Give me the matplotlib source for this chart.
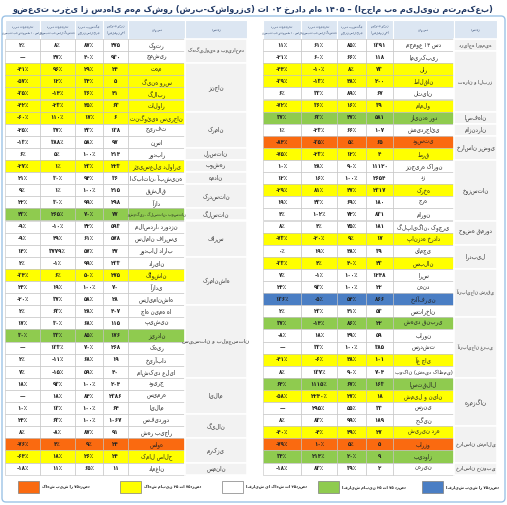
import matplotlib
matplotlib.use("Agg")
import matplotlib.pyplot as plt
from matplotlib.patches import Rectangle, FancyBboxPatch

plt.rcParams['font.family'] = ['DejaVu Sans']

title = "وضعیت برخی از سدهای مهم کشور (شرب-کشاورزی) تا ۰۲ خرداد ماه ۱۴۰۵ – (احجام به میلیون مترمکعب)"
headers = ["استان", "نام سد", "موجودی مخزن\n(میلیون م۳)", "درصد پرشدگی\nمخازن سال جاری",
           "درصد تغییرات\nنسبت به سال گذشته", "درصد تغییرات\nنسبت به متوسط ۱۰ ساله"]

right_provinces = [("دریاچه ارومیه", 1), ("تهران و البرز", 5), ("اصفهان", 1), ("مازندران", 1),
                   ("خراسان رضوی", 2), ("خوزستان", 5), ("حوضه قمرود", 2), ("اردبیل", 2),
                   ("آذربایجان شرقی", 4), ("آذربایجان غربی", 5), ("هرمزگان", 4),
                   ("خراسان شمالی", 3), ("خراسان جنوبی", 1)]
right_dams = ["مجموع ۱۳ سد", "امیرکبیر", "لار", "طالقان", "لتیان", "ماملو", "زاینده رود", "شهیدرجائی",
              "دوستی", "طرق", "زنجیره کارون", "دز", "کرخه", "جره", "مارون", "گلپایگان، کوچری",
              "پانزده خرداد", "یامچی", "سبلان", "ارس", "نهند", "خداآفرین", "ستارخان", "شهید قنبری",
              "بارون", "سردشت", "آغ چای", "بوکان (شهید کاظمی)", "استقلال", "شمیل و نیان", "سرنی",
              "جگین", "شیرین دره", "بارزو", "بیدواز", "نهرین"]
right_volume = ["۱۳۹۱", "۱۱۸", "۷۳", "۲۰۰", "۶۷", "۳۹", "۵۸۱", "۱۰۷", "۶۵", "۴", "۱۱۱۲۰", "۲۶۵۴",
                "۲۳۱۷", "۱۸۰", "۸۳۱", "۱۸۱", "۱۷", "۳۹", "۴۳", "۱۲۴۸", "۲۲", "۸۶۶", "۵۳", "۲۲",
                "۵۹", "۳۸۵", "۱۰۱", "۷۰۴", "۱۶۳", "۱۸", "۳۳", "۱۸۹", "۲۷", "۵", "۹", "۲"]
right_fill = ["۸۵٪", "۶۶٪", "۸٪", "۴۸٪", "۸۹٪", "۱۶٪", "۴۷٪", "۶۶٪", "۵٪", "۱۲٪", "۹۰٪", "۱۰۰٪",
              "۴۷٪", "۶۹٪", "۷۲٪", "۷۵٪", "۹٪", "۴۸٪", "۴۰٪", "۱۰۰٪", "۱۰۰٪", "۵۴٪", "۴۱٪", "۸۶٪",
              "۴۹٪", "۱۰۰٪", "۴۸٪", "۹۰٪", "۶۷٪", "۲۷٪", "۵۵٪", "۹۹٪", "۴۹٪", "۵٪", "۲۰٪", "۳۹٪"]
right_chg_year = ["۶۱٪", "۶۰٪", "-۱۰٪", "-۱۳٪", "۳۳٪", "۳۶٪", "۶۳٪", "-۲۳٪", "-۳۵٪", "-۲۳٪", "۲۸٪",
                  "۱۶٪", "۸۱٪", "۴۳٪", "۱۰۲٪", "۴٪", "-۲۰٪", "۱۹٪", "۴٪", "-۱٪", "۹۳٪", "-۵٪", "۲۳٪",
                  "-۱۴٪", "۱۸٪", "۳۳٪", "-۶٪", "۱۳۷٪", "۱۱۱۵٪", "۲۲۴۰٪", "۲۹۵٪", "۸۳٪", "-۴٪", "۱۰٪",
                  "۲۱۴٪", "۸۳٪"]
right_chg_avg = ["۱۱٪", "-۲۱٪", "-۴۴٪", "-۳۹٪", "۶٪", "-۷۲٪", "۳۷٪", "۱٪", "-۸۴٪", "-۷۵٪", "۱۰٪", "۱۲٪",
                 "-۲۹٪", "۱۹٪", "۴٪", "۸٪", "-۷۳٪", "۰٪", "-۳۳٪", "۷٪", "۲۴٪", "۱۳۶٪", "۲٪", "۳۷٪",
                 "-۸٪", "—", "-۴۱٪", "۸٪", "۶۴٪", "-۵۸٪", "—", "۸٪", "-۴۰٪", "-۷۹٪", "۳۴٪", "-۱۸٪"]
right_class = ["w", "w", "y", "y", "w", "y", "g", "w", "o", "y", "w", "w", "y", "w", "w", "w", "y", "w",
               "y", "w", "w", "b", "w", "g", "w", "w", "y", "w", "g", "y", "w", "w", "y", "o", "g", "w"]

left_provinces = [("کهگیلویه و بویراحمد", 2), ("زنجان", 4), ("کرمان", 3), ("لرستان", 1), ("بوشهر", 1),
                  ("همدان", 1), ("کردستان", 2), ("گلستان", 1), ("فارس", 3), ("کرمانشاه", 4),
                  ("سیستان و بلوچستان", 6), ("ایلام", 3), ("گیلان", 2), ("مرکزی", 2), ("سمنان", 1)]
left_dams = ["کوثر", "چمشیر", "تهم", "گینه ورس", "گلابر", "تالوار", "تنگوئیه سیرجان", "جیرفت", "نسا",
             "رودبار", "رئیسعلی دلواری", "اکباتان، آبشینه", "قشلاق", "آزاد", "وشمگیر، گلستان، بوستان",
             "ملاصدرا، درودزن", "سلمان فارسی", "رودبال داراب", "داریان", "گاوشان", "آزادی", "سلیمانشاه",
             "چاه نیمه ها", "پیشین", "زیردان", "کهیر", "خیرآباد", "ماشکید علیا", "دویرج", "سیمره",
             "ایلام", "سفیدرود", "شهر بیجار", "ساوه", "کمال صالح", "دامغان"]
left_volume = ["۴۷۵", "۹۳۰", "۲۴", "۵", "۴۱", "۶۳", "۶", "۱۳۸", "۹۷", "۲۱۴", "۲۲۳", "۳۶", "۲۱۵", "۲۹۸",
               "۷۷", "۵۹۳", "۵۷۸", "۴۷", "۲۳۳", "۲۷۵", "۷۰", "۲۸", "۴۰۷", "۱۱۵", "۱۷۶", "۲۶۸", "۱۹",
               "۴۰", "۲۰۴", "۲۳۸۶", "۶۴", "۱۰۶۷", "۹۱", "۲۴", "۲۴", "۱۱"]
left_fill = ["۸۷٪", "۴۰٪", "۲۹٪", "۳۴٪", "۳۶٪", "۴۵٪", "۱۷٪", "۴۳٪", "۵۸٪", "۱۰۰٪", "۲۳٪", "۹۴٪", "۱۰۰٪",
             "۹۹٪", "۷۰٪", "۴۲٪", "۶۱٪", "۵۷٪", "۹۹٪", "۵۰٪", "۱۰۰٪", "۵۸٪", "۲۸٪", "۶۸٪", "۸۵٪", "۷۰٪",
             "۶۸٪", "۵۹٪", "۱۰۰٪", "۸۴٪", "۱۰۰٪", "۱۰۰٪", "۸۷٪", "۹٪", "۲۶٪", "۶۵٪"]
left_chg_year = ["۸٪", "۴۷٪", "۹۶٪", "۱۲٪", "-۱۴٪", "-۲۳٪", "۱۱۰٪", "۳۷٪", "۳۸۸٪", "۵٪", "۱٪", "۳۰٪",
                 "۱٪", "۳۰٪", "۲۶۵٪", "-۱۰٪", "۴۹٪", "۳۷۷۹٪", "-۱٪", "۶٪", "۱۹٪", "۳۷٪", "۶۳٪", "۳۰٪",
                 "۳۳٪", "۱۳۳٪", "-۱۱٪", "-۱۵٪", "۹۳٪", "۱۸٪", "۱۳٪", "۶۳٪", "-۸٪", "۴٪", "۱۸٪", "۱۱٪"]
left_chg_avg = ["۲٪", "—", "-۴۱٪", "-۵۷٪", "-۳۵٪", "-۴۲٪", "-۶۰٪", "-۲۵٪", "-۱۳٪", "۶٪", "-۲۷٪", "۲۱٪",
                "۹٪", "۲۲٪", "۴۳٪", "-۹٪", "-۹٪", "۱۴٪", "۲٪", "-۳۴٪", "۲۴٪", "-۲۰٪", "۲٪", "۱۷٪", "۳۰٪",
                "—", "۲٪", "۷٪", "۱۸٪", "—", "۱۰٪", "۲۴٪", "۸٪", "-۷۶٪", "-۶۴٪", "-۱۸٪"]
left_class = ["w", "w", "y", "y", "y", "y", "y", "w", "w", "w", "y", "w", "w", "w", "g", "w", "w", "w",
              "w", "y", "w", "w", "w", "w", "g", "w", "w", "w", "w", "w", "w", "w", "w", "o", "y", "w"]

legend_labels = [("b", "افزایش بیش از ۷۵درصد"), ("g", "افزایش مابین ۲۵ تا ۷۵ درصد"),
                 ("w", "افزایش یا کاهش تا ۲۵درصد"), ("y", "کاهش مابین ۲۵ تا ۷۵درصد"),
                 ("o", "کاهش بیش از ۷۵درصد")]

COL = {"w": "#FFFFFF", "y": "#FFFF00", "g": "#8FCB4F", "o": "#FA6A10", "b": "#4A7EC4"}
HEAD = "#DCE6F2"
PROV = "#F2F2F2"
GRID = "#BFBFBF"

fig = plt.figure(figsize=(5.07, 5.05), dpi=100)
ax = fig.add_axes([0, 0, 1, 1])
ax.set_xlim(0, 507)
ax.set_ylim(505, 0)
ax.axis("off")

ax.add_patch(FancyBboxPatch((2, 16), 503, 486, boxstyle="round,pad=0,rounding_size=4",
                            fc="white", ec="#9DC3E6", lw=1.0))
ax.text(253, 9, title, ha="center", va="center", fontsize=5.9, fontweight="bold", color="#1F3864")

TOP, HH, RH = 20, 19, 12.1


def fit_size(s, width, base):
    # shrink long names so they stay inside their cell
    est = len(s) * base * 0.62
    return base if est <= width else base * width / est


def draw_table(edges, provinces, dams, vol, fill, cy, ca, cls):
    x = edges
    cols_order = [5, 4, 3, 2, 1, 0]
    for i in range(6):
        ax.add_patch(Rectangle((x[i], TOP), x[i + 1] - x[i], HH, fc=HEAD, ec="white", lw=0.8))
        ax.text((x[i] + x[i + 1]) / 2, TOP + HH / 2, headers[cols_order[i]], ha="center",
                va="center", fontsize=2.0, color="#1F3864", linespacing=1.8)
    y0 = TOP + HH
    for r in range(len(dams)):
        y = y0 + r * RH
        c = COL[cls[r]]
        vals = [ca[r], cy[r], fill[r], vol[r], dams[r]]
        for i in range(5):
            ax.add_patch(Rectangle((x[i], y), x[i + 1] - x[i], RH, fc=c, ec=GRID, lw=0.4))
            fw = "bold" if i < 4 else "normal"
            fs = 4.0 if i < 4 else fit_size(vals[i], (x[i + 1] - x[i] - 4) * 0.72, 4.0)
            ax.text((x[i] + x[i + 1]) / 2, y + RH / 2 + 0.3, vals[i], ha="center", va="center",
                    fontsize=fs, fontweight=fw, color="#222222")
    r = 0
    for name, n in provinces:
        y = y0 + r * RH
        ax.add_patch(Rectangle((x[5], y), x[6] - x[5], n * RH, fc=PROV, ec="white", lw=1.2))
        fs = fit_size(name, (x[6] - x[5] - 4) * 0.72, 4.0)
        ax.text((x[5] + x[6]) / 2, y + n * RH / 2, name, ha="center", va="center",
                fontsize=fs, color="#333333")
        r += n


draw_table([263, 301, 337, 366, 393, 454, 497], right_provinces, right_dams, right_volume,
           right_fill, right_chg_year, right_chg_avg, right_class)
draw_table([5, 40, 75, 103, 128, 185, 247], left_provinces, left_dams, left_volume,
           left_fill, left_chg_year, left_chg_avg, left_class)

box_x = [422, 318, 222, 120, 18]
for (k, lab), bx in zip(legend_labels, box_x):
    ax.add_patch(Rectangle((bx, 481), 21, 12, fc=COL[k], ec="#7F7F7F", lw=0.5))
    ax.text(bx + 24, 487, lab, ha="left", va="center", fontsize=2.7, fontweight="bold", color="#222222")

fig.savefig("out.png", dpi=100, facecolor="white")
